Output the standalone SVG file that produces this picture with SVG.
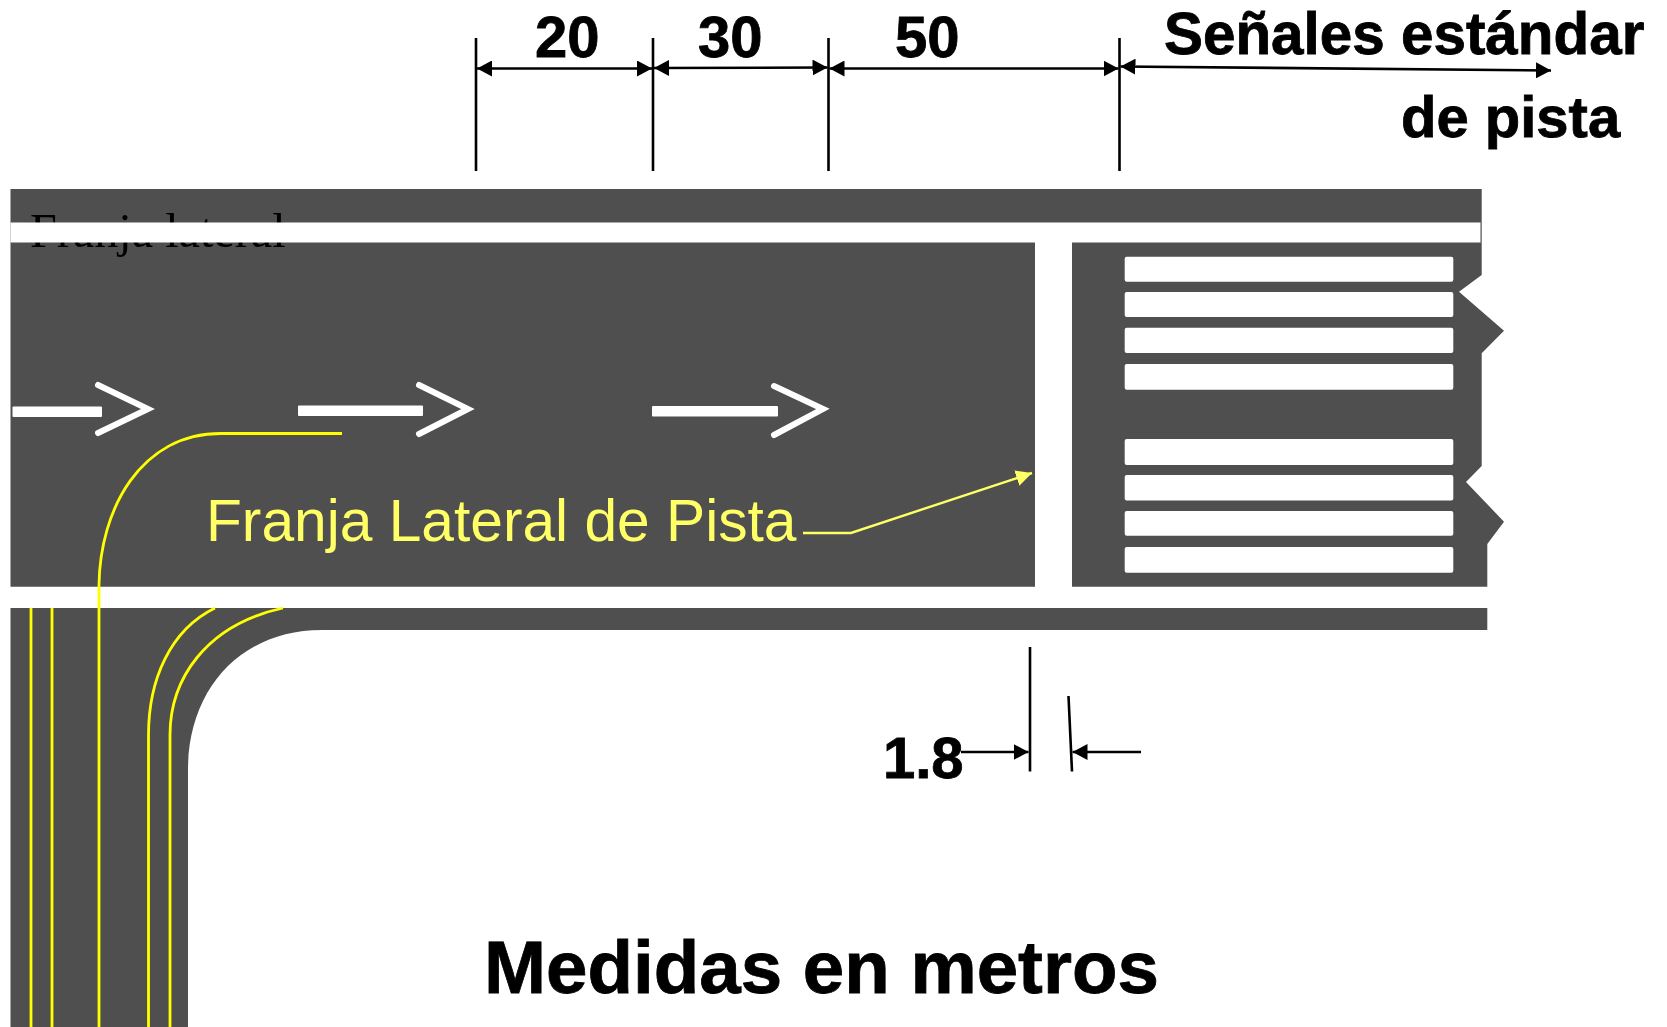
<svg xmlns="http://www.w3.org/2000/svg" width="1667" height="1027" viewBox="0 0 1667 1027">
<style>
.lb{font-family:"Liberation Sans",Arial,sans-serif;font-weight:700;font-size:58px;fill:#000;stroke:#000;stroke-width:.8}
.y{fill:none;stroke:#ff0;stroke-width:2.8}
.w{fill:#fff}
.d{fill:none;stroke:#000;stroke-width:2.6}
.c{fill:none;stroke:#fff;stroke-width:6;stroke-linecap:round;stroke-linejoin:miter}
</style>
<defs>
<marker id="a" viewBox="0 0 15 16" refX="15" refY="8" markerWidth="15" markerHeight="16" markerUnits="userSpaceOnUse" orient="auto-start-reverse"><path d="M0 0L15 8L0 16Z" fill="#000"/></marker>
<marker id="ay" viewBox="0 0 14 14" refX="14" refY="7" markerWidth="16" markerHeight="16" markerUnits="userSpaceOnUse" orient="auto"><path d="M0 0L14 7L0 14Z" fill="#ffff66"/></marker>
</defs>
<g id="pavement">
<path fill="#4f4f4f" d="M10.5 189H1481.7V275L1459 291.7L1504 330.7L1481.7 353.3V466L1466 482L1504 521.7L1487.3 544V586.7H10.5Z"/>
<path fill="#4f4f4f" d="M10.5 608H1487.3V630H322C240 630 188 690 188 770V1027H10.5Z"/>
</g>
<text id="franja-lateral" x="30" y="247" font-family="Liberation Serif,Times New Roman,serif" font-size="48.2" fill="#000">Franja lateral</text>
<g id="white-marks">
<rect class="w" x="10.5" y="222.5" width="1470" height="20"/>
<rect class="w" x="1035" y="242" width="37" height="345"/>
<rect class="w" x="1124.7" y="256.7" width="328.6" height="25" rx="2"/>
<rect class="w" x="1124.7" y="292" width="328.6" height="25" rx="2"/>
<rect class="w" x="1124.7" y="327.7" width="328.6" height="25.3" rx="2"/>
<rect class="w" x="1124.7" y="364" width="328.6" height="25.7" rx="2"/>
<rect class="w" x="1124.7" y="439" width="328.6" height="26" rx="2"/>
<rect class="w" x="1124.7" y="475" width="328.6" height="25.5" rx="2"/>
<rect class="w" x="1124.7" y="511" width="328.6" height="24.7" rx="2"/>
<rect class="w" x="1124.7" y="547" width="328.6" height="25.7" rx="2"/>
</g>
<g id="arrow-1"><rect class="w" x="12.5" y="406.5" width="89.5" height="10.5" rx="1"/><path class="c" d="M98 385L148 409L98 433"/></g>
<g id="arrow-2"><rect class="w" x="298" y="405.5" width="125" height="10.5" rx="1"/><path class="c" d="M419 385L468 409L419 434"/></g>
<g id="arrow-3"><rect class="w" x="652" y="406" width="126" height="10.5" rx="1"/><path class="c" d="M774 386L823 409L774 435"/></g>
<g id="yellow-lines">
<path class="y" d="M31 608V1027"/>
<path class="y" d="M52 608V1027"/>
<path class="y" d="M99 1027V585C100 510 140 433.5 221 433.5H342"/>
<path class="y" d="M148.5 1027V735C148.5 680 170 630 215 608"/>
<path class="y" d="M170 1027V735C170 680 205 625 283 608"/>
</g>
<text id="franja-label" x="206" y="541" font-family="Liberation Sans,Arial,sans-serif" font-size="58.7" fill="#ffff66">Franja Lateral de Pista</text>
<g id="connectors">
<path d="M803 533H851L1032 473" fill="none" stroke="#ffff66" stroke-width="2.4" marker-end="url(#ay)"/>
<path class="d" d="M476 38V171M653 38V171M828.5 38V171M1119.5 38V171M1030 647V771.5M1068.5 696L1072 771.5"/>
<path class="d" d="M477 68.5H652" marker-start="url(#a)" marker-end="url(#a)"/>
<path class="d" d="M654 68L827.5 67.5" marker-start="url(#a)" marker-end="url(#a)"/>
<path class="d" d="M829.5 68.5H1118.5" marker-start="url(#a)" marker-end="url(#a)"/>
<path class="d" d="M1120.5 66.5L1551 70.5" marker-start="url(#a)" marker-end="url(#a)"/>
<path class="d" d="M961 752H1028.5" marker-end="url(#a)"/>
<path class="d" d="M1141 752H1072.5" marker-end="url(#a)"/>
</g>
<g id="labels">
<text class="lb" x="535" y="57">20</text>
<text class="lb" x="698" y="57">30</text>
<text class="lb" x="895" y="57">50</text>
<text class="lb" x="1164" y="54" style="font-size:58.4px">Señales estándar</text>
<text class="lb" x="1401" y="137">de pista</text>
<text class="lb" x="883" y="778">1.8</text>
<text class="lb" x="484" y="993" style="font-size:74.5px">Medidas en metros</text>
</g>
</svg>
